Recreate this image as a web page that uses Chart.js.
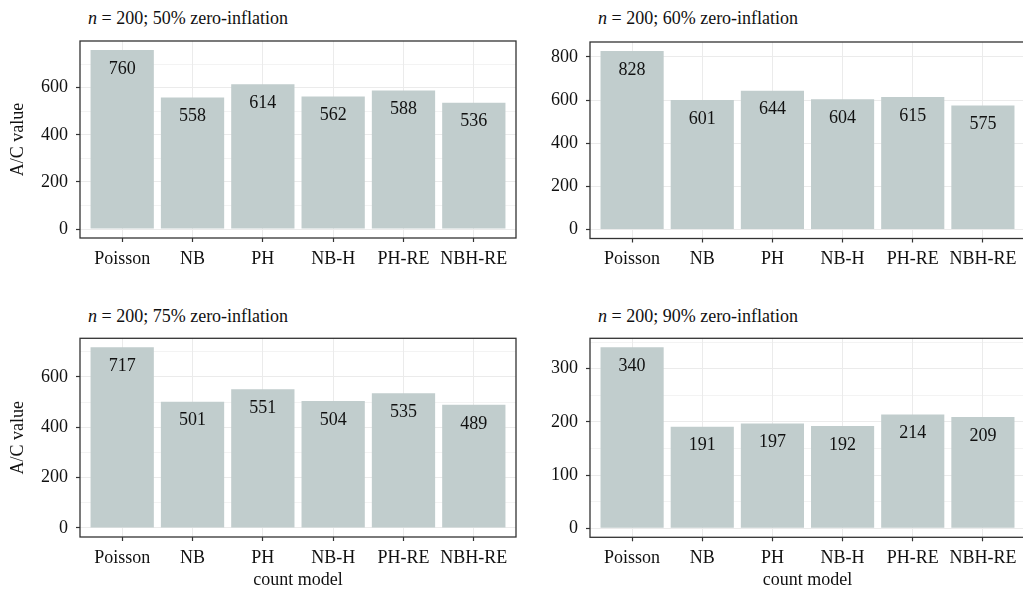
<!DOCTYPE html>
<html>
<head>
<meta charset="utf-8">
<script src="https://cdn.jsdelivr.net/npm/chart.js"></script>
<style>
    html, body { margin: 0; padding: 0; background: #fff; overflow: hidden; }
    body { width: 1023px; height: 589px; position: relative; }
    canvas { position: absolute; }
    .panel-title {
        position: absolute;
        font-family: "Liberation Serif", "Times New Roman", serif;
        font-size: 18px;
        line-height: 20px;
        color: #111;
        white-space: nowrap;
    }
</style>
</head>
<body>
<div class="panel-title" style="left:88px; top:8px;"><i>n</i> = 200; 50% zero-inflation</div>
<div class="panel-title" style="left:598px; top:8px;"><i>n</i> = 200; 60% zero-inflation</div>
<div class="panel-title" style="left:88px; top:306px;"><i>n</i> = 200; 75% zero-inflation</div>
<div class="panel-title" style="left:598px; top:306px;"><i>n</i> = 200; 90% zero-inflation</div>

<canvas id="p50" width="522" height="290" style="left:0px; top:0px;"></canvas>
<canvas id="p60" width="520" height="290" style="left:510px; top:0px;"></canvas>
<canvas id="p75" width="522" height="299" style="left:0px; top:290px;"></canvas>
<canvas id="p90" width="520" height="299" style="left:510px; top:290px;"></canvas>

<script>
    // count models on the x axis
    const models = ['Poisson', 'NB', 'PH', 'NB-H', 'PH-RE', 'NBH-RE'];

    // A/C values per zero-inflation level
    const aic50 = [760, 558, 614, 562, 588, 536];
    const aic60 = [828, 601, 644, 604, 615, 575];
    const aic75 = [717, 501, 551, 504, 535, 489];
    const aic90 = [340, 191, 197, 192, 214, 209];

    // y ticks (labelled) and minor grid positions
    const ticks50 = [0, 200, 400, 600];
    const minor50 = [100, 300, 500, 700];
    const ticks60 = [0, 200, 400, 600, 800];
    const minor60 = [100, 300, 500, 700];
    const ticks75 = [0, 200, 400, 600];
    const minor75 = [100, 300, 500, 700];
    const ticks90 = [0, 100, 200, 300];
    const minor90 = [50, 150, 250, 350];

    const serif = '"Liberation Serif", "Times New Roman", serif';
    const barFill = '#C1CDCD';
    const gridGrey = '#EBEBEB';
    const borderGrey = '#333333';

    // draws the value inside each bar and the panel frame
    const panelPlugin = {
        id: 'panelPlugin',
        afterDatasetsDraw(chart) {
            const ctx = chart.ctx;
            const meta = chart.getDatasetMeta(0);
            const values = chart.data.datasets[0].data;
            ctx.save();
            ctx.font = '18px ' + serif;
            ctx.fillStyle = '#111';
            ctx.textAlign = 'center';
            ctx.textBaseline = 'middle';
            meta.data.forEach(function (bar, i) {
                ctx.fillText(String(values[i].y), bar.x, bar.y + 19);
            });
            ctx.restore();
        },
        afterDraw(chart) {
            const a = chart.chartArea;
            const ctx = chart.ctx;
            ctx.save();
            ctx.strokeStyle = borderGrey;
            ctx.lineWidth = 1.3;
            ctx.strokeRect(a.left, a.top, a.right - a.left, a.bottom - a.top);
            ctx.restore();
        }
    };

    function makePanel(id, values, majorTicks, minorTicks, pad, xHeight, showYTitle, showXTitle) {
        const top = Math.max.apply(null, values);
        const allTicks = majorTicks.concat(minorTicks).sort(function (a, b) { return a - b; });
        const isMajor = function (v) { return majorTicks.indexOf(v) !== -1; };

        new Chart(document.getElementById(id), {
            type: 'bar',
            data: {
                datasets: [{
                    data: values.map(function (v, i) { return { x: i + 1, y: v }; }),
                    backgroundColor: barFill,
                    borderWidth: 0,
                    barPercentage: 0.9,
                    categoryPercentage: 1.0
                }]
            },
            options: {
                responsive: false,
                animation: false,
                devicePixelRatio: 1,
                layout: { padding: pad },
                plugins: {
                    legend: { display: false },
                    tooltip: { enabled: false },
                    title: { display: false }
                },
                scales: {
                    x: {
                        type: 'linear',
                        offset: false,
                        min: 0.4,
                        max: 6.6,
                        afterBuildTicks: function (scale) {
                            scale.ticks = models.map(function (m, i) { return { value: i + 1 }; });
                        },
                        afterFit: function (scale) { scale.height = xHeight; },
                        ticks: {
                            autoSkip: false,
                            maxRotation: 0,
                            padding: 6,
                            color: '#111',
                            font: { family: serif, size: 18 },
                            callback: function (value) { return models[value - 1]; }
                        },
                        grid: {
                            offset: false,
                            color: gridGrey,
                            lineWidth: 1,
                            tickLength: 4,
                            tickColor: borderGrey,
                            tickWidth: 1.2
                        },
                        border: { display: false },
                        title: {
                            display: showXTitle,
                            text: 'count model',
                            color: '#111',
                            font: { family: serif, size: 18, lineHeight: 1 },
                            padding: { top: 0, bottom: 0 }
                        }
                    },
                    y: {
                        min: -0.05 * top,
                        max: 1.05 * top,
                        afterBuildTicks: function (scale) {
                            scale.ticks = allTicks.map(function (v) { return { value: v }; });
                        },
                        afterFit: function (scale) { scale.width = 80; },
                        ticks: {
                            padding: 8,
                            color: '#111',
                            font: { family: serif, size: 18 },
                            callback: function (value) { return isMajor(value) ? String(value) : ''; }
                        },
                        grid: {
                            color: gridGrey,
                            lineWidth: function (c) { return c.tick && isMajor(c.tick.value) ? 1 : 0.6; },
                            tickLength: 4,
                            tickColor: function (c) { return c.tick && isMajor(c.tick.value) ? borderGrey : 'rgba(0,0,0,0)'; },
                            tickWidth: 1.2
                        },
                        border: { display: false },
                        title: {
                            display: showYTitle,
                            text: 'A/C value',
                            color: '#111',
                            font: { family: serif, size: 18, lineHeight: 1 },
                            padding: { top: 9, bottom: 0 }
                        }
                    }
                }
            },
            plugins: [panelPlugin]
        });
    }

    makePanel('p50', aic50, ticks50, minor50, { top: 41, right: 6, left: 0, bottom: 0 }, 52, true, false);
    makePanel('p60', aic60, ticks60, minor60, { top: 42, right: 5, left: 0, bottom: 0 }, 51.5, false, false);
    makePanel('p75', aic75, ticks75, minor75, { top: 48.3, right: 6, left: 0, bottom: 0 }, 52, true, true);
    makePanel('p90', aic90, ticks90, minor90, { top: 48.3, right: 5, left: 0, bottom: 0 }, 51.7, false, true);
</script>
</body>
</html>
